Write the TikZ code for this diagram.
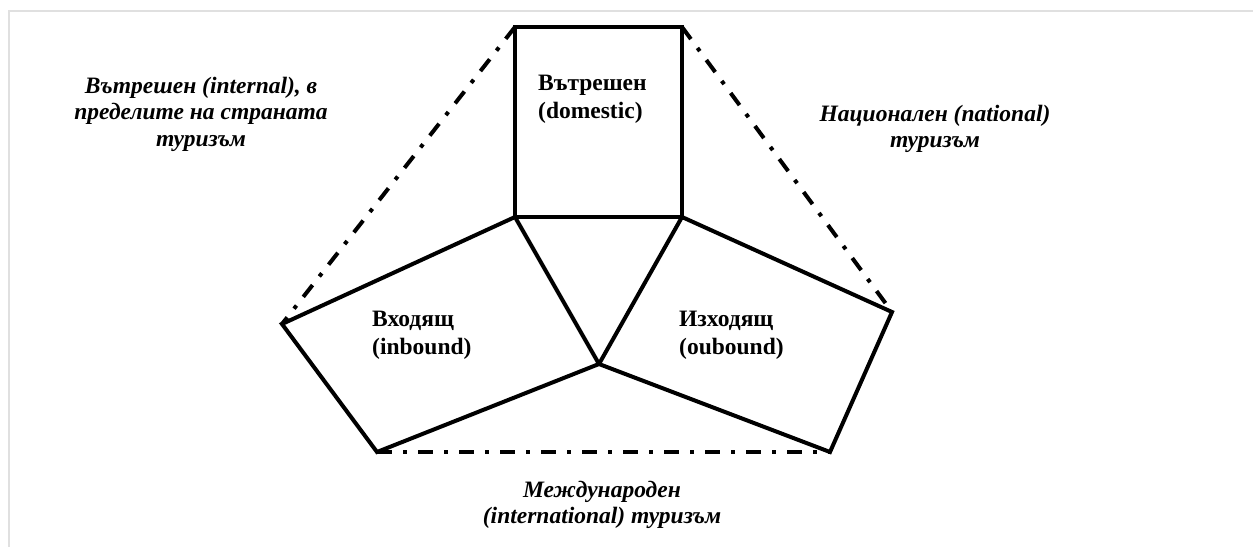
\documentclass[tikz,border=0pt]{standalone}
\usepackage{fontspec}
\setmainfont{Liberation Serif}
\begin{document}
\begin{tikzpicture}[x=1pt,y=-1pt,
  solidline/.style={line width=4pt, line join=miter},
  dashdotline/.style={line width=4pt, dash pattern=on 15pt off 11pt on 4pt off 11pt},
  boldlbl/.style={font=\fontsize{23.5}{28.5}\selectfont\bfseries, align=left, anchor=north west, inner sep=0pt},
  itallbl/.style={font=\fontsize{23.5}{26.8}\selectfont\bfseries\itshape, align=center, anchor=north, inner sep=0pt}]
\useasboundingbox (0,0) rectangle (1253,547);
\draw[black!12, line width=1.5pt] (9,547) -- (9,11) -- (1253,11);
% vertices
\coordinate (TL) at (515,27);
\coordinate (TR) at (682,27);
\coordinate (BL) at (515,217);
\coordinate (BR) at (682,217);
\coordinate (C)  at (599,364);
\coordinate (LV) at (282,324);
\coordinate (LB) at (377,452);
\coordinate (RV) at (892,312);
\coordinate (RB) at (830,452);
% solid shapes
\draw[solidline] (TL) -- (TR) -- (BR) -- (BL) -- cycle;
\draw[solidline] (BL) -- (LV) -- (LB) -- (C) -- cycle;
\draw[solidline] (BR) -- (RV) -- (RB) -- (C) -- cycle;
% dash-dot lines
\draw[dashdotline] (TL) -- (LV);
\draw[dashdotline] (TR) -- (RV);
\draw[dashdotline] (LB) -- (RB);
% labels inside
\node[boldlbl] (dom) at (538,74.5) {Вътрешен\\(domestic)};
\node[boldlbl] (inb) at (372,310.5) {Входящ\\(inbound)};
\node[boldlbl] (outb) at (679,310.5) {Изходящ\\(oubound)};
% outer labels
\node[itallbl] (internal) at (201,76.5) {Вътрешен (internal), в\\пределите на страната\\туризъм};
\node[itallbl] (national) at (935,104.5) {Национален (national)\\туризъм};
\node[itallbl] (intl) at (602,480.5) {Международен\\(international) туризъм};
\end{tikzpicture}
\end{document}
